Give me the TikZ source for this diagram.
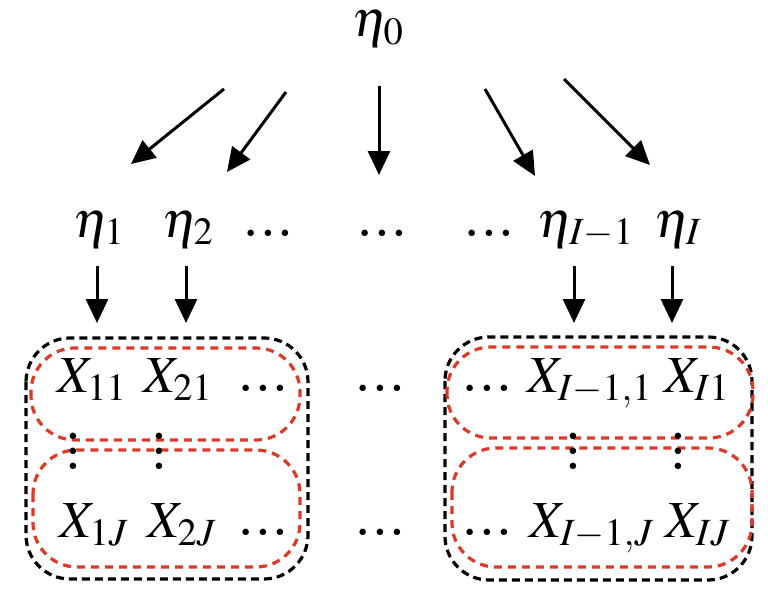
\documentclass[tikz,border=0pt]{standalone}
\usepackage{mathptmx}
\usetikzlibrary{arrows.meta}
\definecolor{boxred}{RGB}{222,56,38}
% heavier dots, horizontal and vertical
\newcommand{\dt}{\scalebox{0.32}{$\bullet$}}
\newcommand{\hdts}{\hbox{\dt\kern4.4pt\dt\kern4.4pt\dt}}
\newcommand{\vdts}{\vbox{\baselineskip=7.5pt\lineskiplimit=-20pt\hbox{\dt}\hbox{\dt}\hbox{\dt}}}

\begin{document}
\begin{tikzpicture}[x=0.5pt, y=-0.5pt, font=\fontsize{26}{31}\selectfont,
    lbl/.style={inner sep=0pt, anchor=base},
    vd/.style={inner sep=0pt},
    arr/.style={line width=1.5pt, -{Triangle[length=12pt,width=11pt]}},
    blkbox/.style={draw=black, line width=1.6pt, dash pattern=on 4pt off 2.5pt, rounded corners=22pt},
    redbox/.style={draw=boxred, line width=1.6pt, dash pattern=on 4pt off 3pt, rounded corners=22pt}]
  \useasboundingbox (0,0) rectangle (768,594);

  % Dashed groups
  \draw[blkbox] (26,338) rectangle (308,579);
  \draw[redbox] (31,348) rectangle (300,440);
  \draw[redbox] (33,450) rectangle (300,567);
  \draw[blkbox] (445,337) rectangle (752,580);
  \draw[redbox] (447,347) rectangle (753,438);
  \draw[redbox] (452,448) rectangle (752,567);

  % Top level
  \node[lbl] (eta0) at (378,37) {$\eta_0$};

  % Second level
  \node[lbl] (eta1) at (99,237) {$\eta_1$};
  \node[lbl] (eta2) at (188,237) {$\eta_2$};
  \node[lbl] (edotsA) at (268,237) {\hdts};
  \node[lbl] (edotsB) at (382,237) {\hdts};
  \node[lbl] (edotsC) at (489,237) {\hdts};
  \node[lbl] (etaIm) at (586,237) {$\eta_{I-1}$};
  \node[lbl] (etaI) at (678,237) {$\eta_I$};

  % Observations, first row
  \node[lbl] (X11) at (92,393) {$X_{11}$};
  \node[lbl] (X21) at (178,393) {$X_{21}$};
  \node[lbl] (xdotsA) at (263,393) {\hdts};
  \node[lbl] (xdotsB) at (380,393) {\hdts};
  \node[lbl] (xdotsC) at (487,393) {\hdts};
  \node[lbl] (XIm1) at (590,393) {$X_{I-1,1}$};
  \node[lbl] (XI1) at (697,393) {$X_{I1}$};

  % Observations, last row
  \node[lbl] (X1J) at (94,538) {$X_{1J}$};
  \node[lbl] (X2J) at (182,538) {$X_{2J}$};
  \node[lbl] (ydotsA) at (263,536) {\hdts};
  \node[lbl] (ydotsB) at (380,536) {\hdts};
  \node[lbl] (ydotsC) at (487,536) {\hdts};
  \node[lbl] (XImJ) at (592,538) {$X_{I-1,J}$};
  \node[lbl] (XIJ) at (698,538) {$X_{IJ}$};

  % Vertical dots between rows
  \node[vd] (vd1) at (73,452) {\vdts};
  \node[vd] (vd2) at (159,452) {\vdts};
  \node[vd] (vd3) at (573,452) {\vdts};
  \node[vd] (vd4) at (678,452) {\vdts};

  % Arrows from eta_0
  \coordinate (s1) at (224,89);  \coordinate (t1) at (131,164);
  \coordinate (s2) at (286,92);  \coordinate (t2) at (227,172);
  \coordinate (s3) at (379,86);  \coordinate (t3) at (379,175);
  \coordinate (s4) at (485,89);  \coordinate (t4) at (535,176);
  \coordinate (s5) at (564,79);  \coordinate (t5) at (650,165);
  \foreach \i in {1,...,5}
    \draw[arr] (s\i) -- (t\i);

  % Arrows into the groups
  \coordinate (b1) at (97,323);
  \coordinate (b2) at (186,323);
  \coordinate (b3) at (574,323);
  \coordinate (b4) at (672,323);
  \draw[arr, shorten <=9pt] (eta1.south -| b1) -- (b1);
  \draw[arr, shorten <=9pt] (eta2.south -| b2) -- (b2);
  \draw[arr, shorten <=9pt] (etaIm.south -| b3) -- (b3);
  \draw[arr, shorten <=9pt] (etaI.south -| b4) -- (b4);
\end{tikzpicture}
\end{document}
